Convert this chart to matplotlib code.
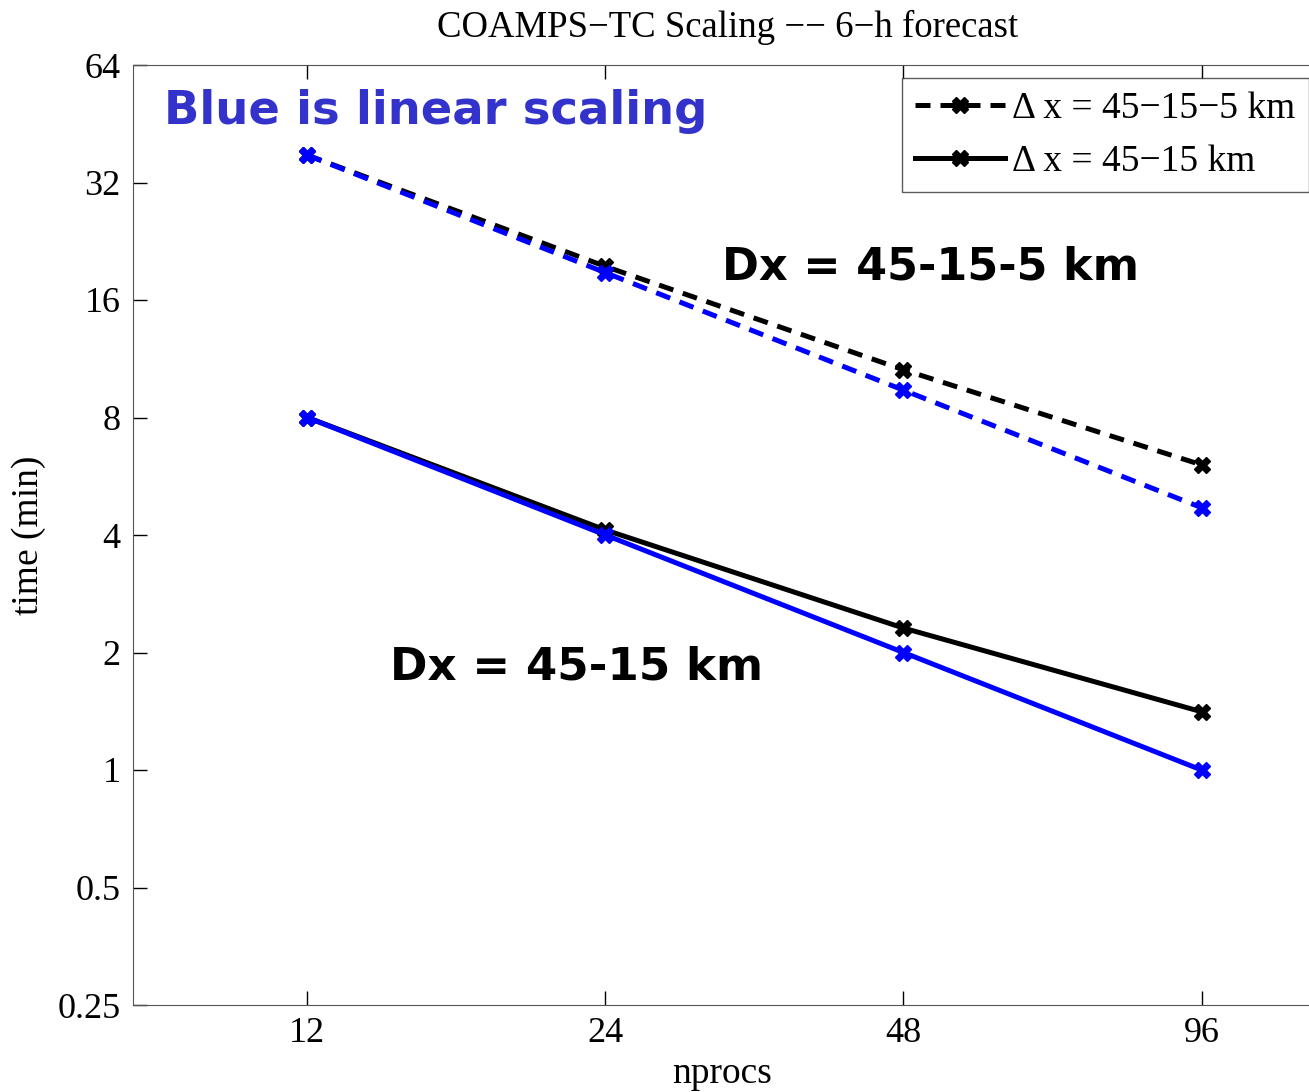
import matplotlib
matplotlib.use('Agg')
import matplotlib.pyplot as plt
from matplotlib.lines import Line2D

# data (minutes vs number of procs)
nprocs = [12, 24, 48, 96]
t_45_15_5 = [37.6, 19.5, 10.6, 6.05]
lin_45_15_5 = [37.6, 18.8, 9.4, 4.7]
t_45_15 = [8.0, 4.12, 2.31, 1.41]
lin_45_15 = [8.0, 4.0, 2.0, 1.0]
yticks = [0.25, 0.5, 1, 2, 4, 8, 16, 32, 64]
ytick_labels = ['0.25', '0.5', '1', '2', '4', '8', '16', '32', '64']

plt.rcParams['font.family'] = ['Liberation Serif', 'DejaVu Serif']

fig = plt.figure(figsize=(13.09, 10.92), dpi=100)
ax = fig.add_axes([133 / 1309, 1 - 1005 / 1092, 1 - 133 / 1309 + 0.002, (1005 - 65) / 1092])

lw = 3.6
ms = 11
ax.plot(nprocs, t_45_15_5, color='black', ls='--', lw=lw, marker='X', ms=ms, dashes=(3, 2))
ax.plot(nprocs, t_45_15, color='black', ls='-', lw=lw, marker='X', ms=ms)
ax.plot(nprocs, lin_45_15_5, color='blue', ls='--', lw=lw, marker='X', ms=ms, dashes=(3, 2))
ax.plot(nprocs, lin_45_15, color='blue', ls='-', lw=lw, marker='X', ms=ms)

ax.set_xscale('log', base=2)
ax.set_yscale('log', base=2)
ax.set_xlim(8.0, 124)
ax.set_ylim(0.25, 64)
ax.set_xticks(nprocs)
ax.set_xticklabels([str(n) for n in nprocs])
ax.set_yticks(yticks)
ax.set_yticklabels(ytick_labels)
ax.minorticks_off()
ax.tick_params(direction='in', length=10, width=1, labelsize=26, pad=9,
               top=True, right=False, colors='black')
for s in ax.spines.values():
    s.set_color('#555555')
ax.spines['right'].set_visible(False)

ax.set_xlabel('nprocs', fontsize=27, labelpad=4)
ax.set_ylabel('time (min)', fontsize=27, labelpad=8)
fig.text(0.556, 0.975, 'COAMPS\u2212TC Scaling \u2212\u2212 6\u2212h forecast',
         ha='center', va='center', fontsize=26.5)

ax.text(0.026, 0.974, 'Blue is linear scaling', transform=ax.transAxes,
        fontsize=33.5, fontweight='bold', color='#3333cc', family='DejaVu Sans',
        va='top', ha='left')
ax.text(0.50, 0.785, 'Dx = 45-15-5 km', transform=ax.transAxes,
        fontsize=32, fontweight='bold', color='black', family='DejaVu Sans',
        va='center', ha='left')
ax.text(0.218, 0.36, 'Dx = 45-15 km', transform=ax.transAxes,
        fontsize=32.5, fontweight='bold', color='black', family='DejaVu Sans',
        va='center', ha='left')

handles = [
    Line2D([], [], color='black', ls='--', lw=lw, marker='X', ms=ms, dashes=(3, 2)),
    Line2D([], [], color='black', ls='-', lw=lw, marker='X', ms=ms),
]
leg = ax.legend(handles, ['\u0394 x = 45\u221215\u22125 km', '\u0394 x = 45\u221215 km'],
                loc='upper right', bbox_to_anchor=(1309 / 1309, 1 - 78 / 1092),
                bbox_transform=fig.transFigure, fontsize=27, frameon=True,
                fancybox=False, edgecolor='#333333', handlelength=2.4,
                handletextpad=0.2, borderpad=0.35, labelspacing=0.5, borderaxespad=0)
leg.get_frame().set_linewidth(1)

fig.savefig('out.png', dpi=100, facecolor='white')
